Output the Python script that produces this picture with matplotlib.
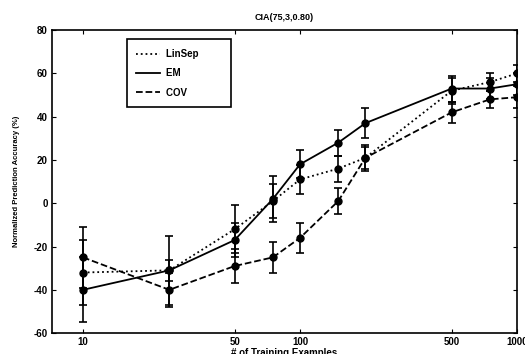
import numpy as np
import matplotlib
matplotlib.use('Agg')
import matplotlib.pyplot as plt
from matplotlib.lines import Line2D

plt.rcParams['font.family'] = ['Liberation Sans', 'DejaVu Sans']
plt.rcParams['axes.unicode_minus'] = False

# training set sizes
n_train = [10, 25, 50, 75, 100, 150, 200, 500, 750, 1000]

# normalized prediction accuracy (%) and error bar half-widths
linsep = [-32, -31, -12, 1, 11, 16, 21, 52, 56, 60]
linsep_err = [15, 5, 11, 8, 6.5, 6, 5, 6, 4, 4]
em = [-40, -31, -17, 2, 18, 28, 37, 53, 53, 55]
em_err = [15, 16, 8, 10.5, 6.5, 6, 7, 6, 5, 5]
cov = [-25, -40, -29, -25, -16, 1, 21, 42, 48, 49]
cov_err = [14, 8, 8, 7, 7, 6, 6, 5, 4, 5]

xticks = [10, 50, 100, 500, 1000]
yticks = [80, 60, 40, 20, 0, -20, -40, -60]

fig = plt.figure(figsize=(5.25, 3.54), dpi=100)
ax = fig.add_axes([0.099, 0.059, 0.886, 0.856])

series = [(linsep, linsep_err, ':', 'LinSep'),
          (em, em_err, '-', 'EM'),
          (cov, cov_err, '--', 'COV')]
for y, err, ls, lab in series:
    ax.errorbar(n_train, y, yerr=err, color='black', ls=ls, lw=1.3,
                marker='o', ms=5, capsize=2.8, elinewidth=1.2, capthick=1.2)

ax.set_xscale('log')
ax.set_xlim(7.2, 1000)
ax.set_ylim(-60, 80)
ax.set_xticks(xticks)
ax.set_xticklabels([str(t) for t in xticks])
ax.xaxis.set_minor_locator(matplotlib.ticker.NullLocator())
ax.set_yticks(yticks)
ax.tick_params(direction='in', top=True, right=True, length=3, labelsize=7, pad=3)
for lbl in ax.get_xticklabels() + ax.get_yticklabels():
    lbl.set_fontweight('bold')
for s in ax.spines.values():
    s.set_linewidth(1.2)

ax.set_title('CIA(75,3,0.80)', fontsize=6.5, fontweight='bold', pad=7)
ax.set_ylabel('Normalized Prediction Accuracy (%)', fontsize=5.5, fontweight='bold')
ax.yaxis.set_label_coords(-0.068, 0.5)
ax.set_xlabel('# of Training Examples', fontsize=7, fontweight='bold')
ax.xaxis.set_label_coords(0.5, -0.05)

# legend shows line styles only, no markers
handles = [Line2D([], [], color='black', ls=ls, lw=1.3) for _, _, ls, _ in series]
labels = [lab + '        ' for _, _, _, lab in series]
leg = ax.legend(handles, labels, loc='upper left', bbox_to_anchor=(0.15, 0.985),
                fancybox=False, edgecolor='black', framealpha=1, handlelength=2.4,
                handletextpad=0.7, borderpad=1.0, labelspacing=0.95,
                prop={'size': 7, 'weight': 'bold'})
leg.get_frame().set_linewidth(1.2)

fig.savefig('out.png', dpi=100)
